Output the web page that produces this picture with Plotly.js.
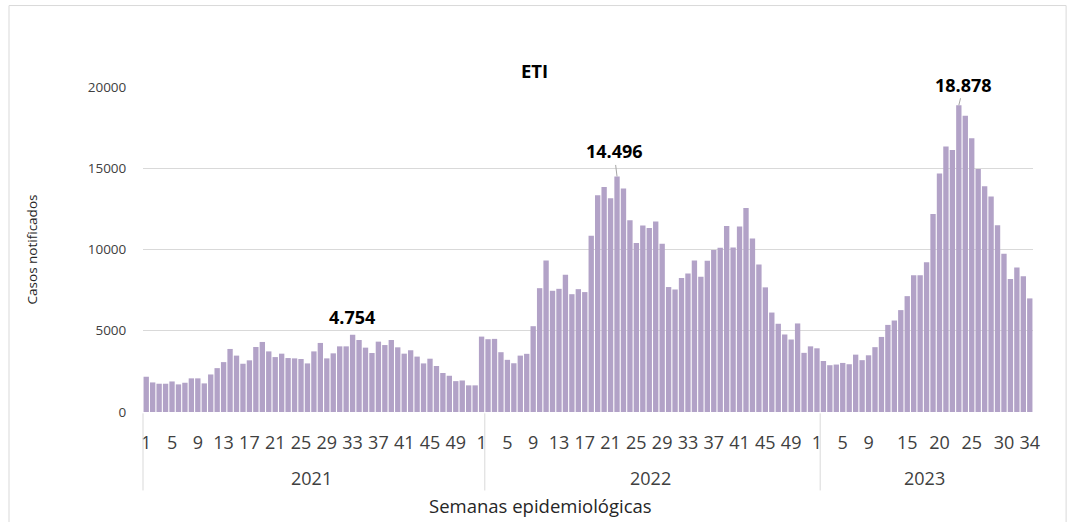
<!DOCTYPE html>
<html>
<head>
<meta charset="utf-8">
<script src="https://cdn.plot.ly/plotly-3.0.1.min.js"></script>
<style>
  html, body { margin: 0; padding: 0; background: #ffffff; }
  #chart { width: 1068px; height: 522px; }
</style>
</head>
<body>
<div id="chart"></div>
<script>
// ---- Data (weekly notified ETI cases) ----
const years = ['2021', '2022', '2023'];
const cases2021 = [2170,1820,1740,1740,1880,1700,1800,2070,2070,1760,2310,2700,3070,3880,3470,2970,3180,4000,4310,3730,3380,3590,3320,3300,3260,2990,3730,4250,3300,3610,4040,4040,4754,4430,3960,3630,4330,4120,4430,3980,3590,3800,3410,2990,3280,2830,2400,2230,1900,1940,1640,1640];
const cases2022 = [4640,4480,4500,3680,3210,3000,3470,3580,5280,7620,9330,7460,7580,8450,7250,7560,7380,10850,13340,13850,13150,14496,13750,11800,10400,11470,11320,11730,10360,7690,7540,8240,8530,9330,8320,9310,9970,10110,11450,10130,11410,12560,10670,9080,7670,6120,5430,4770,4460,5450,3640,4040];
const cases2023 = [3920,3140,2880,2920,3020,2940,3530,3190,3490,3990,4620,5360,5630,6270,7130,8410,8410,9210,12190,14670,16340,16130,18878,18230,16850,14960,13890,13260,11490,9740,8180,8900,8360,6990];

// week tick labels shown under each year
const ticks2021 = [1,5,9,13,17,21,25,29,33,37,41,45,49];
const ticks2022 = [1,5,9,13,17,21,25,29,33,37,41,45,49];
const ticks2023 = [1,5,9,15,20,25,30,34];

// labelled peaks: [year, week]
const peakYears = ['2021', '2022', '2023'];
const peakWeeks = [33, 22, 23];

const yTicks = [0, 5000, 10000, 15000, 20000];

// ---- Build from arrays ----
const series = [cases2021, cases2022, cases2023];
const tickSets = [ticks2021, ticks2022, ticks2023];
const offsets = [];
let off = 0;
series.forEach(s => { offsets.push(off); off += s.length; });
const total = off;

const xs = [], ys = [], hover = [];
series.forEach((s, i) => {
  s.forEach((v, j) => {
    xs.push(offsets[i] + j);
    ys.push(v);
    hover.push(years[i] + ' SE ' + (j + 1));
  });
});

const tickvals = [], ticktext = [];
tickSets.forEach((t, i) => {
  t.forEach(w => { tickvals.push(offsets[i] + w - 1); ticktext.push(String(w)); });
});

function fmt(v) {
  return String(v).replace(/\B(?=(\d{3})+(?!\d))/g, '.');
}

const font = 'Open Sans, Liberation Sans, sans-serif';
const grey = '#d9d9d9';

// geometry
const mL = 143.3, mR = 34.6, mT = 87.3, mB = 110.3;
const W = 1068, H = 522;
const pw = W - mL - mR, ph = H - mT - mB;
const px2paperX = p => (p - mL) / pw;
const px2paperY = p => (H - mB - p) / ph;

// peak annotations
const peakOffsets = [[-1, -18], [-3, -25], [5, -20.5]];
const annotations = [];
peakYears.forEach((yr, k) => {
  const yi = years.indexOf(yr);
  const idx = offsets[yi] + peakWeeks[k] - 1;
  const val = series[yi][peakWeeks[k] - 1];
  annotations.push({
    x: idx, y: val, xref: 'x', yref: 'y',
    text: fmt(val),
    showarrow: true, arrowhead: 0, arrowwidth: 1, standoff: 0,
    arrowcolor: k === 0 ? 'rgba(0,0,0,0)' : '#a6a6a6',
    ax: peakOffsets[k][0], ay: peakOffsets[k][1],
    font: {family: font, size: 18, color: '#000000', weight: 'bold'}
  });
});

// year group labels and divider lines
const shapes = [];
const divY0 = px2paperY(413), divY1 = px2paperY(490);
// dividers as drawn in the reference (after the first week of each new year)
const dividerIdx = [-0.5, offsets[1] + 0.5, offsets[2] + 0.5];
dividerIdx.forEach(d => {
  shapes.push({type: 'line', xref: 'paper', yref: 'paper',
    x0: (d + 0.5) / total, x1: (d + 0.5) / total, y0: divY0, y1: divY1,
    line: {color: grey, width: 1}});
});
const bounds = dividerIdx.concat([total - 0.5]);
years.forEach((yr, i) => {
  annotations.push({
    x: (bounds[i] + bounds[i + 1]) / 2, xref: 'x',
    y: px2paperY(477.5), yref: 'paper', yanchor: 'middle',
    xshift: -2,
    text: yr, showarrow: false,
    font: {family: font, size: 18, color: '#404040'}
  });
});

// x axis title
annotations.push({
  x: px2paperX(541), xref: 'paper', y: px2paperY(505), yref: 'paper',
  xanchor: 'center', yanchor: 'middle',
  text: 'Semanas epidemiológicas', showarrow: false,
  font: {family: font, size: 18.5, color: '#262626'}
});

// chart border
shapes.push({type: 'rect', xref: 'paper', yref: 'paper',
  x0: px2paperX(9.3), x1: px2paperX(1066.5), y0: px2paperY(540), y1: px2paperY(6),
  line: {color: grey, width: 1}, fillcolor: 'rgba(0,0,0,0)', layer: 'below'});

const trace = {
  type: 'bar', x: xs, y: ys, hovertext: hover,
  hovertemplate: '%{hovertext}: %{y}<extra></extra>',
  textposition: 'none',
  marker: {color: '#b2a2c7', line: {width: 0}},
  showlegend: false
};

const layout = {
  width: W, height: H,
  margin: {l: mL, r: mR, t: mT, b: mB, pad: 0},
  paper_bgcolor: '#ffffff', plot_bgcolor: '#ffffff',
  bargap: 0.17,
  title: {
    text: 'ETI', x: 534.5 / W, xref: 'container', xanchor: 'center',
    y: 1 - 71.5 / H, yref: 'container', yanchor: 'middle',
    font: {family: font, size: 18.5, color: '#000000', weight: 'bold'}
  },
  xaxis: {
    range: [-0.5, total - 0.5],
    tickmode: 'array', tickvals: tickvals, ticktext: ticktext, tickangle: 0,
    ticks: 'outside', ticklen: 14, tickcolor: 'rgba(0,0,0,0)',
    tickfont: {family: font, size: 18, color: '#404040'},
    showgrid: false, zeroline: false, showline: false, fixedrange: true
  },
  yaxis: {
    range: [0, 20000],
    tickmode: 'array', tickvals: yTicks, tickformat: 'd',
    ticks: 'outside', ticklen: 13, tickcolor: 'rgba(0,0,0,0)',
    tickfont: {family: font, size: 13.5, color: '#404040'},
    showgrid: true, gridcolor: grey, gridwidth: 1,
    zeroline: false, showline: false, fixedrange: true,
    title: {text: 'Casos notificados', standoff: 46,
      font: {family: font, size: 13.5, color: '#262626'}}
  },
  shapes: shapes,
  annotations: annotations
};

Plotly.newPlot('chart', [trace], layout, {displayModeBar: false, staticPlot: true});
</script>
</body>
</html>
